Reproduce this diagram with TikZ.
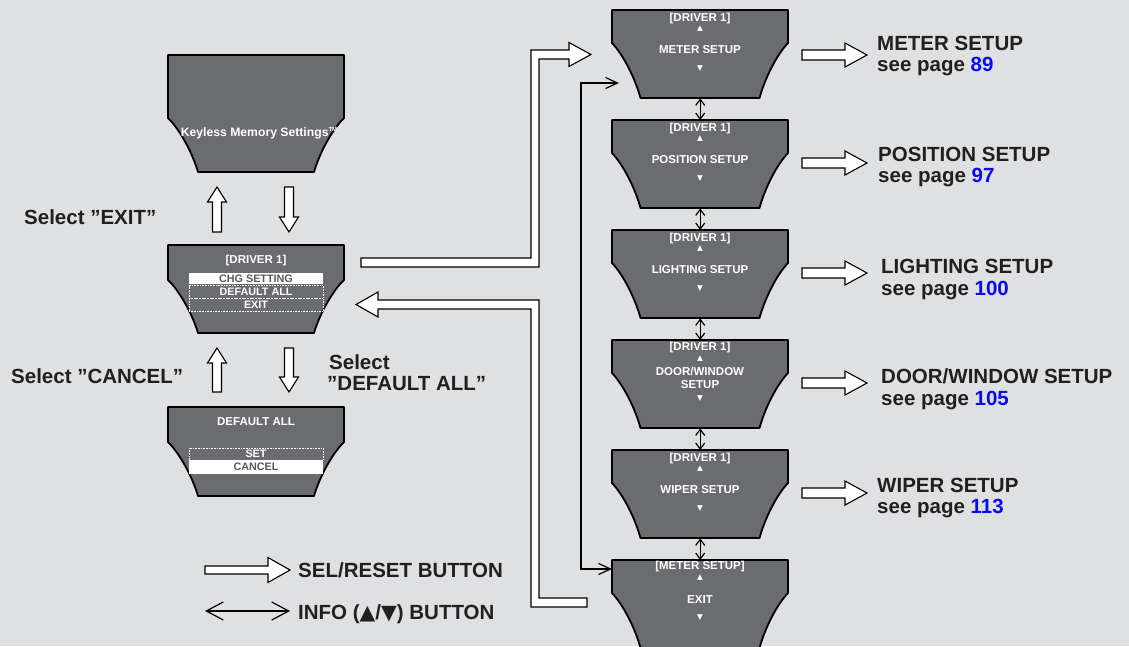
\documentclass[tikz,border=0pt]{standalone}
\usepackage{fontspec}
\setmainfont{Liberation Sans}
\newfontfamily\symf{DejaVu Sans}
\usetikzlibrary{arrows.meta,calc}
\definecolor{bg}{HTML}{DFE0E2}
\definecolor{scrfill}{HTML}{6B6C70}
\definecolor{ink}{HTML}{231F20}
\definecolor{pageblue}{HTML}{0A0AF0}
\definecolor{menutext}{HTML}{58595B}
\tikzset{
  screen/.style={fill=scrfill, draw=black, line width=1.8pt, line join=round},
  scrbox/.style={inner sep=0pt, draw=none, fill=none},
  scrtxt/.style={text=white, font=\bfseries\fontsize{11.5}{12}\selectfont, inner sep=0pt, anchor=base},
  tri/.style={text=white, font=\symf\fontsize{7.5}{8}\selectfont, inner sep=0pt},
  menusel/.style={fill=white, text=menutext, font=\bfseries\fontsize{10.8}{11}\selectfont, inner sep=0pt, minimum width=134pt},
  menuopt/.style={draw=white, line width=0.7pt, dash pattern=on 0.8pt off 0.8pt, text=white, font=\bfseries\fontsize{10.8}{11}\selectfont, inner sep=0pt, minimum width=134pt},
  hol/.style={fill=white, draw=black, line width=1.1pt, line join=miter},
  lbl/.style={text=ink, font=\bfseries\fontsize{20.5}{22}\selectfont, inner sep=0pt, anchor=base west},
  infoarr/.style={draw=black, line width=1.2pt, {Straight Barb[length=6pt,width=9pt]}-{Straight Barb[length=6pt,width=9pt]}},
  infoL/.style={draw=black, line width=1.2pt, {Straight Barb[length=12pt,width=11pt]}-{Straight Barb[length=12pt,width=11pt]}},
  infoleg/.style={draw=black, line width=1.2pt, {Straight Barb[length=17pt,width=18pt]}-{Straight Barb[length=17pt,width=18pt]}},
  pics/holarrow/.style n args={4}{code={
    \draw[hol] (0,-#2) -- ({#1-#4},-#2) -- ({#1-#4},-#3) -- (#1,0) -- ({#1-#4},#3) -- ({#1-#4},#2) -- (0,#2) -- cycle;
  }}
}
\newcommand\drawscreen[6]{%
  \pgfmathsetmacro\scXa{#2}\pgfmathsetmacro\scXb{#2+176}%
  \pgfmathsetmacro\scYa{#3}\pgfmathsetmacro\scYb{#3+#4}\pgfmathsetmacro\scYc{#3+#5}%
  \pgfmathsetmacro\scCh{#5-#4}%
  \pgfmathsetmacro\scXl{#2+#6}\pgfmathsetmacro\scXr{#2+176-#6}%
  \draw[screen] (\scXa,\scYa) -- (\scXb,\scYa) -- (\scXb,\scYb)
    .. controls ({\scXb-0.41*#6},{\scYb+0.22*\scCh}) and ({\scXr+0.17*#6},{\scYc-0.33*\scCh}) .. (\scXr,\scYc)
    -- (\scXl,\scYc)
    .. controls ({\scXl-0.17*#6},{\scYc-0.33*\scCh}) and ({\scXa+0.41*#6},{\scYb+0.22*\scCh}) .. (\scXa,\scYb) -- cycle;
  \node[scrbox, minimum width=176pt, minimum height=#5pt, anchor=north west] (#1) at (\scXa,\scYa) {};
}
\begin{document}
\begin{tikzpicture}[x=1pt,y=-1pt]
\fill[bg] (0,0) rectangle (1129,646);
\useasboundingbox (0,0) rectangle (1129,646);

% ---------- left screens ----------
\drawscreen{kms}{168}{55}{63}{117}{30}
\node[scrtxt, font=\bfseries\fontsize{12.2}{13}\selectfont] (kmst) at (259,136) {Keyless Memory Settings\raisebox{5pt}{\fontsize{6}{6}\selectfont TM}};

\drawscreen{drv}{168}{245}{35}{88}{30}
\node[scrtxt] (drvt) at (256,263) {[DRIVER 1]};
\node[menusel, minimum height=11pt] (chg) at (256,278.5) {CHG SETTING};
\node[menuopt, minimum height=12.5pt] (dfa) at (256,291.75) {DEFAULT ALL};
\node[menuopt, minimum height=13pt] (ext) at (256,305) {EXIT};

\drawscreen{dfs}{168}{407}{35}{89}{30}
\node[scrtxt] (dfst) at (256,425) {DEFAULT ALL};
\node[menuopt, minimum height=12pt] (set) at (256,454) {SET};
\node[menusel, minimum height=13.5pt] (cnc) at (256,466.75) {CANCEL};

% vertical hollow arrows on the left
\pic[rotate=90] at (217,232) {holarrow={45}{4.5}{9.5}{15}};
\pic[rotate=-90] at (289,187) {holarrow={45}{4.5}{9.5}{15}};
\pic[rotate=90] at (217,392) {holarrow={44}{4.5}{9.5}{15}};
\pic[rotate=-90] at (289,348) {holarrow={44}{4.5}{9.5}{15}};

% left labels
\node[lbl] (lexit) at (24,224) {Select ''EXIT''};
\node[lbl] (lcancel) at (11,383) {Select ''CANCEL''};
\node[lbl] (ldef1) at (329,369) {Select};
\node[lbl] (ldef2) at (327,390) {''DEFAULT ALL''};

% ---------- right screens ----------
\drawscreen{s1}{612}{10}{33}{88}{28.5}
\node[scrtxt] (s1a) at (700,21) {[DRIVER 1]};
\node[tri] (s1u) at (700,28.5) {▲};
\node[scrtxt] (s1m) at (700,53.5) {METER SETUP};
\node[tri] (s1d) at (700,69) {▼};

\drawscreen{s2}{612}{120}{33}{88}{28.5}
\node[scrtxt] (s2a) at (700,131) {[DRIVER 1]};
\node[tri] (s2u) at (700,138.5) {▲};
\node[scrtxt] (s2m) at (700,163.5) {POSITION SETUP};
\node[tri] (s2d) at (700,179) {▼};

\drawscreen{s3}{612}{230}{33}{88}{28.5}
\node[scrtxt] (s3a) at (700,241) {[DRIVER 1]};
\node[tri] (s3u) at (700,248.5) {▲};
\node[scrtxt] (s3m) at (700,273.5) {LIGHTING SETUP};
\node[tri] (s3d) at (700,289) {▼};

\drawscreen{s4}{612}{340}{33}{88}{28.5}
\node[scrtxt] (s4a) at (700,350) {[DRIVER 1]};
\node[tri] (s4u) at (700,358.3) {▲};
\node[scrtxt] (s4m) at (700,375.7) {DOOR/WINDOW};
\node[scrtxt] (s4n) at (700,388.7) {SETUP};
\node[tri] (s4d) at (700,398.7) {▼};

\drawscreen{s5}{612}{450}{33}{88}{28.5}
\node[scrtxt] (s5a) at (700,461) {[DRIVER 1]};
\node[tri] (s5u) at (700,468.5) {▲};
\node[scrtxt] (s5m) at (700,493.5) {WIPER SETUP};
\node[tri] (s5d) at (700,509) {▼};

\drawscreen{s6}{612}{560}{33}{88}{28.5}
\node[scrtxt] (s6a) at (700,569.5) {[METER SETUP]};
\node[tri] (s6u) at (700,578) {▲};
\node[scrtxt] (s6m) at (700,603) {EXIT};
\node[tri] (s6d) at (700,618) {▼};

% INFO arrows between right screens
\draw[infoarr] (s1.south) -- (s2.north);
\draw[infoarr] (s2.south) -- (s3.north);
\draw[infoarr] (s3.south) -- (s4.north);
\draw[infoarr] (s4.south) -- (s5.north);
\draw[infoarr] (s5.south) -- (s6.north);

% INFO loop from EXIT back to METER SETUP
\coordinate (infoA) at (619,83);
\coordinate (infoB) at ($(s6.north west)+(0,9)$);
\draw[infoL] (infoA) -- (581,83) |- (infoB);

% SEL hollow connectors
\draw[hol] (361,258) -- (531,258) -- (531,50) -- (569,50) -- (569,42.5) -- (591,54.5) -- (569,66.5) -- (569,59) -- (539,59) -- (539,267) -- (361,267) -- cycle;
\draw[hol] (587,598) -- (539,598) -- (539,300) -- (378,300) -- (378,292) -- (356,304.5) -- (378,317) -- (378,309) -- (531,309) -- (531,607) -- (587,607) -- cycle;

% right hollow arrows and labels
\pic at (802,55) {holarrow={65}{5}{12}{22}};
\pic at (802,163) {holarrow={65}{5}{12}{22}};
\pic at (802,273) {holarrow={65}{5}{12}{22}};
\pic at (802,383) {holarrow={65}{5}{12}{22}};
\pic at (802,493) {holarrow={65}{5}{12}{22}};

\node[lbl] (r1a) at (877,50) {METER SETUP};
\node[lbl] (r1b) at (877,71) {see page \textcolor{pageblue}{89}};
\node[lbl] (r2a) at (878,161) {POSITION SETUP};
\node[lbl] (r2b) at (878,182) {see page \textcolor{pageblue}{97}};
\node[lbl] (r3a) at (881,273) {LIGHTING SETUP};
\node[lbl] (r3b) at (881,295) {see page \textcolor{pageblue}{100}};
\node[lbl] (r4a) at (881,383) {DOOR/WINDOW SETUP};
\node[lbl] (r4b) at (881,405) {see page \textcolor{pageblue}{105}};
\node[lbl] (r5a) at (877,492) {WIPER SETUP};
\node[lbl] (r5b) at (877,513) {see page \textcolor{pageblue}{113}};

% legend
\pic at (205,570) {holarrow={85}{4}{12.5}{22}};
\node[lbl] (lg1) at (298,577) {SEL/RESET BUTTON};
\coordinate (lgA) at (205,611);
\coordinate (lgB) at (290,611);
\draw[infoleg] (lgA) -- (lgB);
\node[lbl] (lg2) at (298,619) {INFO ({\symf\bfseries ▲}/{\symf\bfseries ▼}) BUTTON};
\end{tikzpicture}
\end{document}
